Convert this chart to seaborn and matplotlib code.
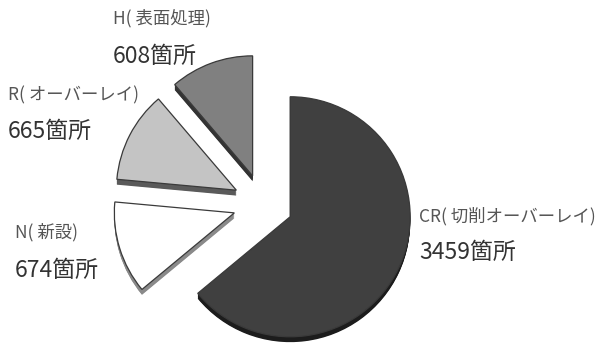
import matplotlib
matplotlib.use("Agg")
import matplotlib.pyplot as plt
import seaborn as sns

# Work types and number of locations
categories = ["CR( 切削オーバーレイ)", "N( 新設)", "R( オーバーレイ)", "H( 表面処理)"]
counts = [3459, 674, 665, 608]
unit = "箇所"

top_colors = ["#404040", "#ffffff", "#c4c4c4", "#808080"]
side_colors = ["#1c1c1c", "#8a8a8a", "#5a5a5a", "#333333"]

sns.set_theme(style="white")
plt.rcParams["font.family"] = ["Noto Sans CJK JP", "DejaVu Sans"]

W, H = 607, 347
fig = plt.figure(figsize=(W / 100, H / 100), dpi=100)
ax = fig.add_axes([0, 0, 1, 1])

# pie radius of 1 data unit = 120 px, centre placed at (263, 204) px
R_PX = 120.0
cx, cy = 263.0, 204.0

explode = [0.25] * len(counts)

# extruded side faces, drawn as stacked copies shifted downward
depth = 0.045
layers = 8
for k in range(layers, 0, -1):
    ax.pie(counts, explode=explode, colors=side_colors, startangle=90,
           counterclock=False, center=(0, -depth * k / layers), radius=1.0,
           wedgeprops=dict(linewidth=0), frame=True)
# top faces
ax.pie(counts, explode=explode, colors=top_colors, startangle=90,
       counterclock=False, center=(0, 0), radius=1.0,
       wedgeprops=dict(linewidth=0.9, edgecolor="#3a3a3a"), frame=True)

ax.set_xlim(-cx / R_PX, (W - cx) / R_PX)
ax.set_ylim(-(H - cy) / R_PX, cy / R_PX)
ax.set_aspect("equal")
ax.axis("off")

# label anchor points (left edge, centre of first and second line) in px
label_pos = [(419, 216, 252), (15, 232, 270), (8, 95, 131), (113, 18, 56)]
for name, n, (x, y1, y2) in zip(categories, counts, label_pos):
    fig.text(x / W, 1 - y1 / H, name, fontsize=12.5, color="#555555",
             ha="left", va="center")
    fig.text(x / W, 1 - y2 / H, f"{n}{unit}", fontsize=16.5, color="#333333",
             ha="left", va="center")

fig.savefig("out.png", dpi=100, facecolor="white")
